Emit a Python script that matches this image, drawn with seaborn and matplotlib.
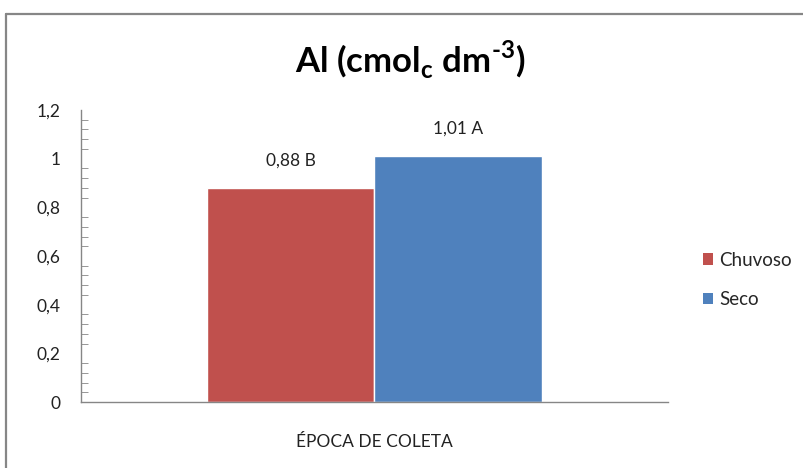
import pandas as pd
import matplotlib.pyplot as plt
import seaborn as sns
from matplotlib.patches import Patch
from matplotlib.lines import Line2D
from matplotlib.ticker import MultipleLocator, FuncFormatter

# Data
epoca = ['ÉPOCA DE COLETA', 'ÉPOCA DE COLETA']
estacao = ['Chuvoso', 'Seco']
al_valores = [0.88, 1.01]
rotulos = ['0,88 B', '1,01 A']
cores = ['#C0504D', '#4F81BD']

df = pd.DataFrame({'epoca': epoca, 'estacao': estacao, 'al': al_valores})

sns.set_style('white')
plt.rcParams['font.family'] = ['Lato', 'DejaVu Sans']
plt.rcParams['mathtext.fontset'] = 'custom'
plt.rcParams['mathtext.rm'] = 'Lato:bold'
plt.rcParams['mathtext.bf'] = 'Lato:bold'

fig = plt.figure(figsize=(8.04, 4.68), dpi=100)
ax = fig.add_axes([0.1007, 0.141, 0.730, 0.624])

sns.barplot(data=df, x='epoca', y='al', hue='estacao', palette=cores,
            width=0.57, ax=ax, legend=False, saturation=1)

# data labels above bars
for patch, txt in zip(ax.patches, rotulos):
    ax.annotate(txt, (patch.get_x() + patch.get_width() / 2, patch.get_height()),
                xytext=(0, 14), textcoords='offset points', ha='center',
                va='bottom', fontsize=12.5, color='#222222')

ax.set_ylim(0, 1.2)
ax.set_xlim(-0.5, 0.5)
ax.yaxis.set_major_locator(MultipleLocator(0.2))
ax.yaxis.set_minor_locator(MultipleLocator(0.04))
ax.yaxis.set_major_formatter(FuncFormatter(lambda v, p: f'{v:g}'.replace('.', ',')))
ax.tick_params(axis='y', which='major', direction='in', length=7, color='#868686',
               labelsize=12.5, labelcolor='#222222', pad=14.5)
ax.tick_params(axis='y', which='minor', direction='in', length=5, color='#868686', left=True)
ax.tick_params(axis='x', length=0, labelsize=12.5, labelcolor='#222222', pad=23)
for lbl in ax.get_yticklabels():
    lbl.set_horizontalalignment('right')

ax.set_xlabel('')
ax.set_ylabel('')
for s in ['top', 'right']:
    ax.spines[s].set_visible(False)
for s in ['left', 'bottom']:
    ax.spines[s].set_color('#868686')
    ax.spines[s].set_linewidth(1.0)

fig.text(0.51, 0.872, r'Al (cmol$_\mathregular{c}$ dm$^\text{-3}$)',
         ha='center', va='center', fontsize=25, fontweight='bold', color='black')

handles = [Patch(facecolor=c, edgecolor='none') for c in cores]
fig.legend(handles, estacao, loc='center left', bbox_to_anchor=(0.853, 0.402),
           frameon=False, fontsize=13.5, handlelength=0.55, handleheight=0.55,
           handletextpad=0.35, labelspacing=1.2)

# chart border (cut off at right and bottom)
fig.add_artist(Line2D([6 / 804, 6 / 804], [0, 1 - 14 / 468], transform=fig.transFigure,
                      color='#868686', lw=1.6))
fig.add_artist(Line2D([6 / 804, 1], [1 - 14 / 468, 1 - 14 / 468], transform=fig.transFigure,
                      color='#868686', lw=1.6))

fig.savefig('out.png', dpi=100, facecolor='white')
